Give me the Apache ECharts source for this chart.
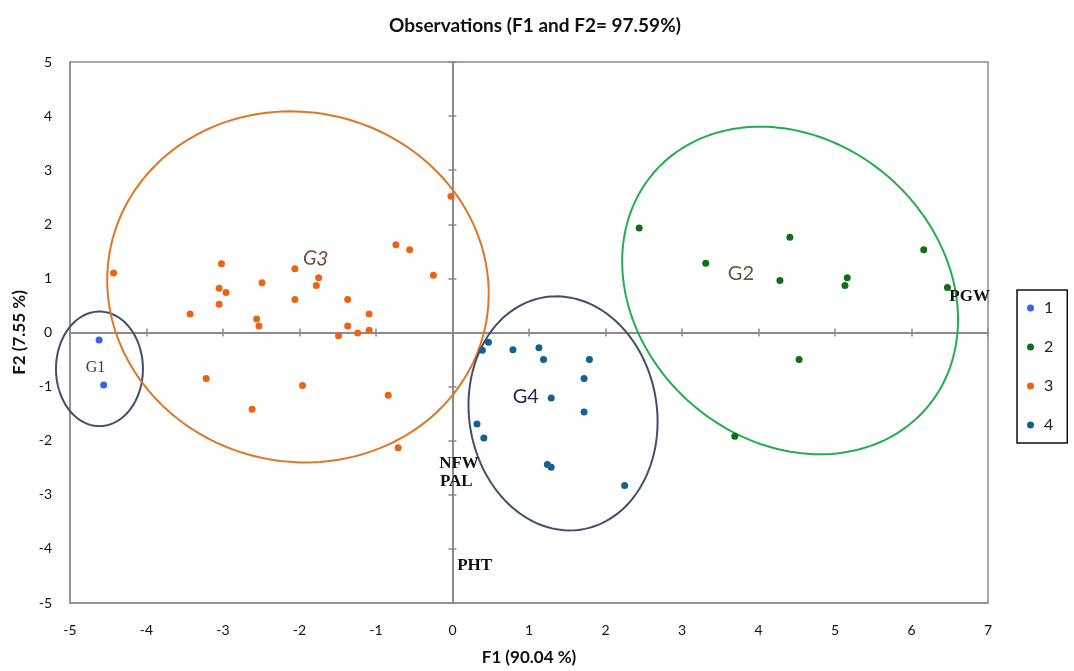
<!DOCTYPE html>
<html>
<head>
<meta charset="utf-8">
<script src="https://cdn.jsdelivr.net/npm/echarts@6/dist/echarts.min.js"></script>
<style>
html,body{margin:0;padding:0;background:#fff;}
#chart{width:1074px;height:671px;}
</style>
</head>
<body>
<div id="chart"></div>
<script>
// ---- data ----
const categories = ['1', '2', '3', '4'];
const xTicks = [-5, 7, 1];   // min, max, interval of F1
const yTicks = [-5, 5, 1];   // min, max, interval of F2

const series1 = [[-4.62, -0.14], [-4.56, -0.97]];
const series2 = [
  [2.44, 1.93], [3.31, 1.28], [4.41, 1.76], [4.28, 0.96], [5.16, 1.01],
  [5.13, 0.87], [6.16, 1.53], [6.47, 0.83], [4.53, -0.50], [3.69, -1.92]
];
const series3 = [
  [-4.43, 1.10], [-3.02, 1.27], [-3.05, 0.82], [-2.96, 0.74], [-3.05, 0.52],
  [-3.43, 0.34], [-2.49, 0.92], [-2.56, 0.25], [-2.53, 0.12], [-2.06, 1.18],
  [-2.06, 0.61], [-3.22, -0.85], [-2.62, -1.42], [-1.96, -0.98], [-1.75, 1.01],
  [-1.78, 0.87], [-1.37, 0.61], [-1.09, 0.34], [-1.37, 0.12], [-1.49, -0.06],
  [-1.24, -0.01], [-1.09, 0.04], [-0.74, 1.62], [-0.56, 1.53], [-0.25, 1.06],
  [-0.84, -1.16], [-0.71, -2.13], [-0.02, 2.52]
];
const series4 = [
  [0.47, -0.18], [0.39, -0.33], [0.79, -0.32], [1.13, -0.28], [1.19, -0.50],
  [1.79, -0.50], [1.72, -0.85], [1.29, -1.21], [1.72, -1.47], [0.32, -1.69],
  [0.41, -1.95], [1.24, -2.44], [1.29, -2.49], [2.25, -2.83]
];

// group ellipses: centre (F1, F2), semi-axes (F1 units, F2 units), tilt (deg)
const groupNames = ['G1', 'G2', 'G3', 'G4'];
const groupCenters = [[-4.615, -0.672], [4.413, 0.777], [-2.02, 0.843], [1.445, -1.495]];
const groupRadii = [[0.568, 1.059], [2.355, 2.777], [2.503, 3.23], [1.227, 2.173]];
const groupTilt = [0, 41, 12.4, -9.1];
const groupLabelPos = [[-4.667, -0.657], [3.77, 1.086], [-1.79, 1.368], [0.958, -1.19]];

// variable labels
const varNames = ['NFW', 'PAL', 'PHT', 'PGW'];
const varPos = [[0.085, -2.43], [0.05, -2.76], [0.29, -4.31], [6.76, 0.66]];

// ---- styles ----
const pointColors = ['#3366e0', '#0f6e1a', '#e96515', '#155f92'];
const ellipseColors = ['#3f5068', '#22ae4e', '#df7626', '#3f5068'];
const groupLabelStyle = [
  {font: '16px "Liberation Serif"', fill: '#2d3b6b', rot: 0},
  {font: '20px Lato', fill: '#5b5a43', rot: 0},
  {font: 'italic 20px Lato', fill: '#6e4a33', rot: -0.08},
  {font: '20px Lato', fill: '#1c2650', rot: 0}
];
const gridColor = '#8c8c8c';

const ellipseData = groupNames.map((n, i) => [
  groupCenters[i][0], groupCenters[i][1], groupRadii[i][0], groupRadii[i][1], groupTilt[i], i
]);
const groupLabelData = groupNames.map((n, i) => [groupLabelPos[i][0], groupLabelPos[i][1], i]);
const varLabelData = varNames.map((n, i) => [varPos[i][0], varPos[i][1], i]);

const chart = echarts.init(document.getElementById('chart'));

function xAxisDef(extra) {
  return Object.assign({
    type: 'value', min: xTicks[0], max: xTicks[1], interval: xTicks[2],
    splitLine: {show: false},
    axisLine: {show: true, onZero: true, lineStyle: {color: gridColor, width: 2}},
    axisTick: {show: true, length: 4, lineStyle: {color: gridColor, width: 1.5}},
    axisLabel: {show: false}
  }, extra);
}
function yAxisDef(extra) {
  return Object.assign({
    type: 'value', min: yTicks[0], max: yTicks[1], interval: yTicks[2],
    splitLine: {show: false},
    axisLine: {show: true, onZero: true, lineStyle: {color: gridColor, width: 2}},
    axisTick: {show: true, length: 4, lineStyle: {color: gridColor, width: 1.5}},
    axisLabel: {show: false}
  }, extra);
}

const labelFont = {fontFamily: 'Lato', fontSize: 14, color: '#111'};

const option = {
  animation: false,
  backgroundColor: '#fff',
  title: {
    text: 'Observations (F1 and F2= 97.59%)',
    left: 530, top: 11, textAlign: 'center',
    textStyle: {fontFamily: 'Lato', fontWeight: 'bold', fontSize: 19, color: '#111'}
  },
  legend: {
    data: categories,
    orient: 'vertical',
    left: 1017, top: 290,
    icon: 'circle',
    itemWidth: 7, itemHeight: 14, itemGap: 23,
    padding: [10, 14, 10, 10],
    borderColor: '#111', borderWidth: 1.5,
    textStyle: {fontFamily: 'Lato', fontSize: 16, color: '#222', padding: [0, 0, 0, 5]}
  },
  grid: {
    left: 70, top: 62, width: 918, height: 543,
    show: true, borderColor: gridColor, borderWidth: 1.5
  },
  xAxis: [
    xAxisDef({
      position: 'bottom',
      axisLine: {show: true, onZero: false, lineStyle: {color: gridColor, width: 1.5}},
      axisTick: {show: false},
      axisLabel: Object.assign({show: true, margin: 20}, labelFont),
      name: 'F1 (90.04 %)', nameLocation: 'middle', nameGap: 46,
      nameTextStyle: {fontFamily: 'Lato', fontWeight: 'bold', fontSize: 17, color: '#111'}
    }),
    xAxisDef({position: 'bottom'}),
    xAxisDef({position: 'top'})
  ],
  yAxis: [
    yAxisDef({
      position: 'left',
      axisLine: {show: true, onZero: false, lineStyle: {color: gridColor, width: 1.5}},
      axisTick: {show: false},
      axisLabel: Object.assign({show: true, margin: 18}, labelFont),
      name: 'F2 (7.55 %)', nameLocation: 'middle', nameGap: 42,
      nameTextStyle: {fontFamily: 'Lato', fontWeight: 'bold', fontSize: 17, color: '#111'}
    }),
    yAxisDef({position: 'left'}),
    yAxisDef({position: 'right'})
  ],
  series: [
    ...[series1, series2, series3, series4].map((d, i) => ({
      name: categories[i], type: 'scatter', data: d,
      xAxisIndex: 0, yAxisIndex: 0,
      symbol: 'circle', symbolSize: 7,
      itemStyle: {color: pointColors[i], opacity: 1},
      z: 4
    })),
    {
      name: 'ellipses', type: 'custom', data: ellipseData,
      xAxisIndex: 0, yAxisIndex: 0, silent: true, z: 3,
      renderItem: function (params, api) {
        const c = api.coord([api.value(0), api.value(1)]);
        const s = api.size([api.value(2), api.value(3)]);
        const rot = api.value(4) * Math.PI / 180;
        const idx = api.value(5);
        const pts = [];
        for (let k = 0; k <= 180; k++) {
          const t = 2 * Math.PI * k / 180;
          const ex = s[0] * Math.cos(t), ey = s[1] * Math.sin(t);
          pts.push([c[0] + ex * Math.cos(rot) - ey * Math.sin(rot),
                    c[1] + ex * Math.sin(rot) + ey * Math.cos(rot)]);
        }
        return {type: 'polyline', shape: {points: pts},
          style: {fill: null, stroke: ellipseColors[idx], lineWidth: 2}};
      }
    },
    {
      name: 'groupLabels', type: 'custom', data: groupLabelData,
      xAxisIndex: 0, yAxisIndex: 0, silent: true, z: 5,
      renderItem: function (params, api) {
        const c = api.coord([api.value(0), api.value(1)]);
        const st = groupLabelStyle[api.value(2)];
        return {type: 'text', x: c[0], y: c[1], rotation: st.rot,
          style: {text: groupNames[api.value(2)], font: st.font, fill: st.fill,
            align: 'center', verticalAlign: 'middle'}};
      }
    },
    {
      name: 'varLabels', type: 'custom', data: varLabelData,
      xAxisIndex: 0, yAxisIndex: 0, silent: true, z: 5,
      renderItem: function (params, api) {
        const c = api.coord([api.value(0), api.value(1)]);
        return {type: 'text', x: c[0], y: c[1],
          style: {text: varNames[api.value(2)], font: 'bold 17px "Liberation Serif"', fill: '#111',
            align: 'center', verticalAlign: 'middle'}};
      }
    }
  ]
};
chart.setOption(option);
</script>
</body>
</html>
